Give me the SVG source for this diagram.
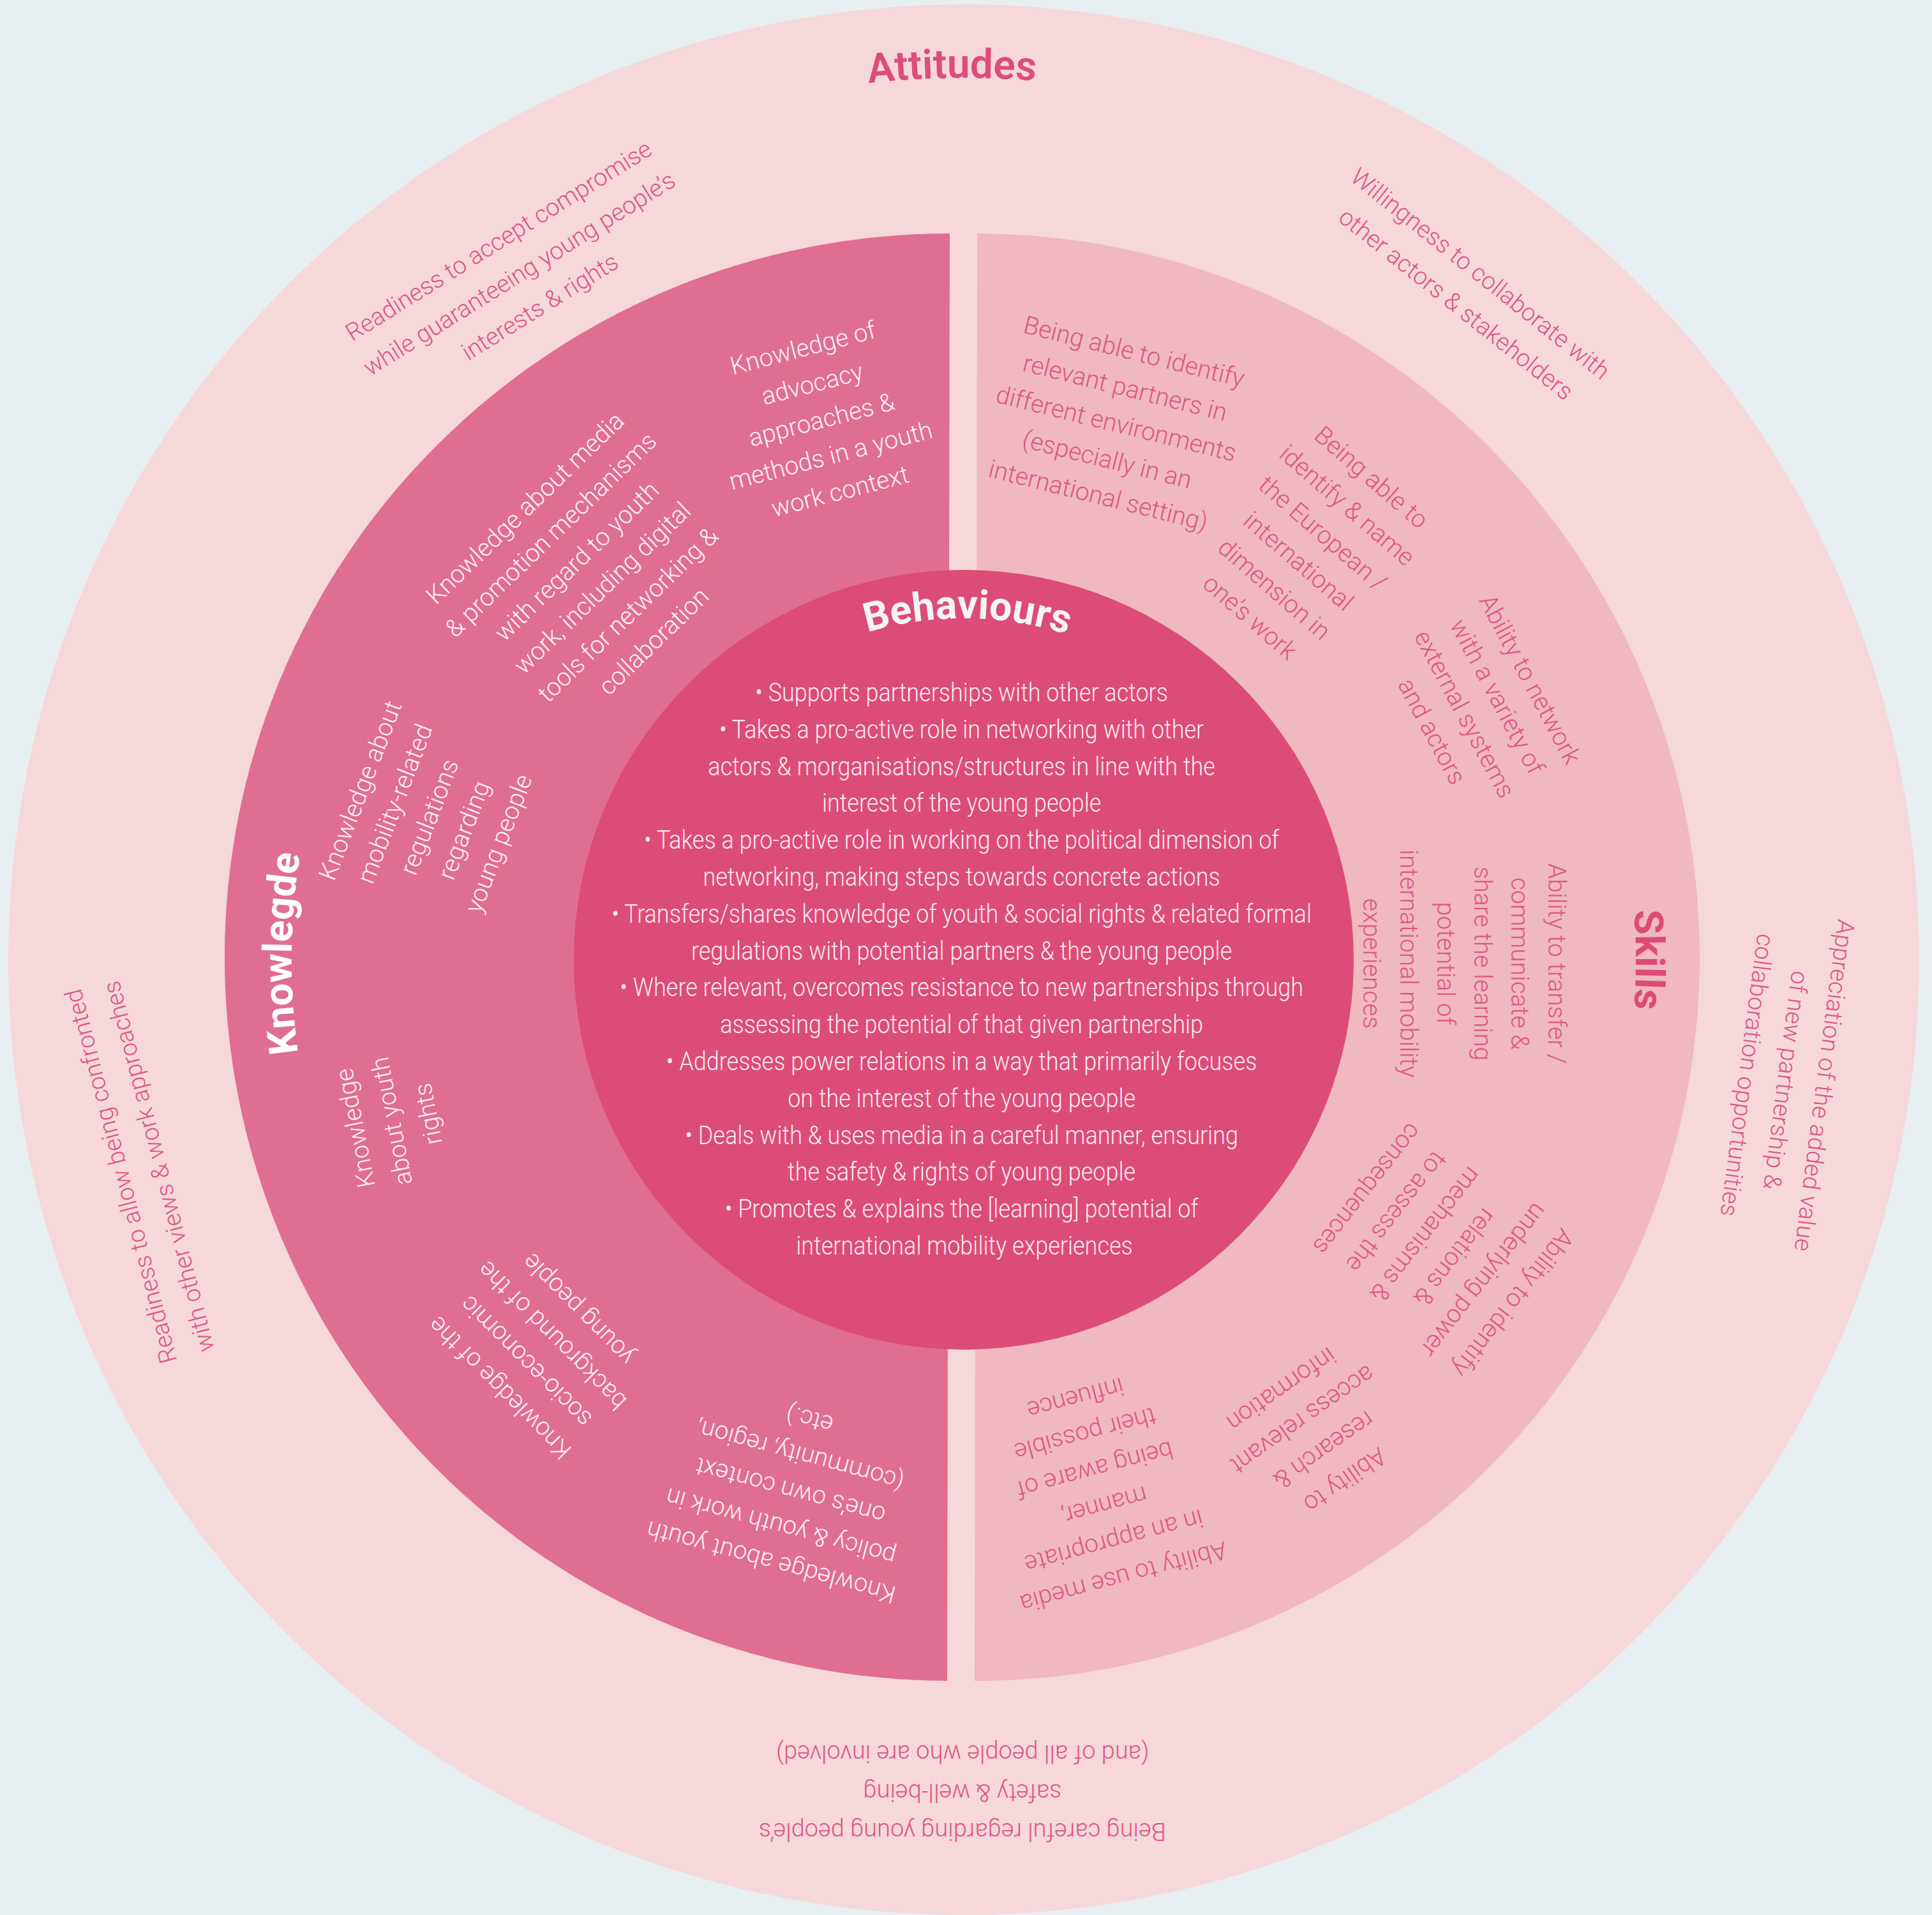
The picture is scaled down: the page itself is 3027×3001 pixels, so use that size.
<svg xmlns="http://www.w3.org/2000/svg" width="3027" height="3001" viewBox="0 0 3027 3001">
<defs>
<style>
text{font-family:"Helvetica Neue",Roboto,"Liberation Sans",Arial,sans-serif}
.t{font-size:39px;font-weight:300;text-anchor:middle}
.kt{fill:#fdf0f4}
.st{fill:#dc5784}
.at{fill:#dc5784;font-size:38px}
.bt{fill:#fdeaf0;font-size:40px;font-weight:300;text-anchor:middle}
.ttl{font-size:63px;font-weight:700;text-anchor:middle}
</style>
<path id="arcA" d="M 1510 2886 A 1382 1382 0 1 1 1510 122 A 1382 1382 0 1 1 1510 2886"/>
<path id="arcKS" d="M 1510 2557 A 1053 1053 0 1 1 1510 451 A 1053 1053 0 1 1 1510 2557"/>
<path id="arcB" d="M 1510 2039 A 535 535 0 1 1 1510 969 A 535 535 0 1 1 1510 2039"/>
</defs>
<rect width="3027" height="3001" fill="#e7eff2"/>

<g id="attitudes">
<circle cx="1510" cy="1504" r="1497" fill="#f6d7da"/>
<text class="ttl" fill="#dc4d7b" style="font-weight:600;font-size:64px"><textPath href="#arcA" startOffset="49.79%">Attitudes</textPath></text>
<g id="att-compromise" transform="translate(813 428) rotate(-32)"><text class="t at"><tspan x="0" y="-47">Readiness to accept compromise</tspan><tspan x="0" y="14">while guaranteeing young people’s</tspan><tspan x="0" y="75">interests &amp; rights</tspan></text></g>
<g id="att-collaborate" transform="translate(2301 452) rotate(38.5)"><text class="t at"><tspan x="0" y="-16.5">Willingness to collaborate with</tspan><tspan x="0" y="44.5">other actors &amp; stakeholders</tspan></text></g>
<g id="att-appreciation" transform="translate(2799 1693) rotate(97.5)"><text class="t at"><tspan x="0" y="-47">Appreciation of the added value</tspan><tspan x="0" y="14">of new partnership &amp;</tspan><tspan x="0" y="75">collaboration opportunities</tspan></text></g>
<g id="att-careful" transform="translate(1508 2810) rotate(180)"><text class="t at"><tspan x="0" y="-47">Being careful regarding young people’s</tspan><tspan x="0" y="14">safety &amp; well-being</tspan><tspan x="0" y="75">(and of all people who are involved)</tspan></text></g>
<g id="att-confronted" transform="translate(218 1836) rotate(-104.5)"><text class="t at"><tspan x="0" y="-16.5">Readiness to allow being confronted</tspan><tspan x="0" y="44.5">with other views &amp; work approaches</tspan></text></g>
</g>

<g id="knowledge">
<path d="M 1488 366 A 1134 1134 0 0 0 1484 2634 Z" fill="#e06d92"/>
<text class="ttl" fill="#ffffff"><textPath href="#arcKS" startOffset="25.15%">Knowlegde</textPath></text>
<g id="k-advocacy" transform="translate(1287 657) rotate(-14.5)"><text class="t kt"><tspan x="0" y="-102">Knowledge of</tspan><tspan x="0" y="-44">advocacy</tspan><tspan x="0" y="14">approaches &amp;</tspan><tspan x="0" y="72">methods in a youth</tspan><tspan x="0" y="130">work context</tspan></text></g>
<g id="k-media" transform="translate(923 900) rotate(-44)"><text class="t kt"><tspan x="0" y="-131">Knowledge about media</tspan><tspan x="0" y="-73">&amp; promotion mechanisms</tspan><tspan x="0" y="-15">with regard to youth</tspan><tspan x="0" y="43">work, including digital</tspan><tspan x="0" y="101">tools for networking &amp;</tspan><tspan x="0" y="159">collaboration</tspan></text></g>
<g id="k-mobility" transform="translate(672 1280) rotate(-69)"><text class="t kt"><tspan x="0" y="-102">Knowledge about</tspan><tspan x="0" y="-44">mobility-related</tspan><tspan x="0" y="14">regulations</tspan><tspan x="0" y="72">regarding</tspan><tspan x="0" y="130">young people</tspan></text></g>
<g id="k-rights" transform="translate(613 1757) rotate(-101)"><text class="t kt"><tspan x="0" y="-44">Knowledge</tspan><tspan x="0" y="14">about youth</tspan><tspan x="0" y="72">rights</tspan></text></g>
<g id="k-socio" transform="translate(844 2114) rotate(-135)"><text class="t kt"><tspan x="0" y="-73">Knowledge of the</tspan><tspan x="0" y="-15">socio-economic</tspan><tspan x="0" y="43">background of the</tspan><tspan x="0" y="101">young people</tspan></text></g>
<g id="k-policy" transform="translate(1238 2337) rotate(-165)"><text class="t kt"><tspan x="0" y="-102">Knowledge about youth</tspan><tspan x="0" y="-44">policy &amp; youth work in</tspan><tspan x="0" y="14">one’s own context</tspan><tspan x="0" y="72">(community, region,</tspan><tspan x="0" y="130">etc.)</tspan></text></g>
</g>

<g id="skills">
<path d="M 1531 366 A 1134 1134 0 0 1 1527 2634 Z" fill="#f0b8c0"/>
<text class="ttl" fill="#dc4b78"><textPath href="#arcKS" startOffset="75%">Skills</textPath></text>
<g id="s-partners" transform="translate(1749 663) rotate(14)"><text class="t st"><tspan x="0" y="-102">Being able to identify</tspan><tspan x="0" y="-44">relevant partners in</tspan><tspan x="0" y="14">different environments</tspan><tspan x="0" y="72">(especially in an</tspan><tspan x="0" y="130">international setting)</tspan></text></g>
<g id="s-european" transform="translate(2054 857) rotate(41)"><text class="t st"><tspan x="0" y="-131">Being able to</tspan><tspan x="0" y="-73">identify &amp; name</tspan><tspan x="0" y="-15">the European /</tspan><tspan x="0" y="43">international</tspan><tspan x="0" y="101">dimension in</tspan><tspan x="0" y="159">one’s work</tspan></text></g>
<g id="s-network" transform="translate(2321 1105) rotate(62)"><text class="t st"><tspan x="0" y="-73">Ability to network</tspan><tspan x="0" y="-15">with a variety of</tspan><tspan x="0" y="43">external systems</tspan><tspan x="0" y="101">and actors</tspan></text></g>
<g id="s-transfer" transform="translate(2295 1510) rotate(90)"><text class="t st"><tspan x="0" y="-131">Ability to transfer /</tspan><tspan x="0" y="-73">communicate &amp;</tspan><tspan x="0" y="-15">share the learning</tspan><tspan x="0" y="43">potential of</tspan><tspan x="0" y="101">international mobility</tspan><tspan x="0" y="159">experiences</tspan></text></g>
<g id="s-power" transform="translate(2257 1953) rotate(128)"><text class="t st"><tspan x="0" y="-131">Ability to identify</tspan><tspan x="0" y="-73">underlying power</tspan><tspan x="0" y="-15">relations &amp;</tspan><tspan x="0" y="43">mechanisms &amp;</tspan><tspan x="0" y="101">to assess the</tspan><tspan x="0" y="159">consequences</tspan></text></g>
<g id="s-research" transform="translate(2058 2249) rotate(145)"><text class="t st"><tspan x="0" y="-73">Ability to</tspan><tspan x="0" y="-15">research &amp;</tspan><tspan x="0" y="43">access relevant</tspan><tspan x="0" y="101">information</tspan></text></g>
<g id="s-media" transform="translate(1723 2332) rotate(165)"><text class="t st"><tspan x="0" y="-131">Ability to use media</tspan><tspan x="0" y="-73">in an appropriate</tspan><tspan x="0" y="-15">manner,</tspan><tspan x="0" y="43">being aware of</tspan><tspan x="0" y="101">their possible</tspan><tspan x="0" y="159">influence</tspan></text></g>
</g>

<g id="behaviours">
<circle cx="1510" cy="1504" r="611" fill="#dc4c78"/>
<text class="ttl" fill="#f4f3f5"><textPath href="#arcB" startOffset="50.17%">Behaviours</textPath></text>
<g transform="translate(1511 0) scale(0.9 1)">
<text class="bt">
<tspan x="0" y="1099">• Supports partnerships with other actors</tspan>
<tspan x="0" y="1156.8">• Takes a pro-active role in networking with other</tspan>
<tspan x="0" y="1214.6">actors &amp; morganisations/structures in line with the</tspan>
<tspan x="0" y="1272.4">interest of the young people</tspan>
<tspan x="0" y="1330.2">• Takes a pro-active role in working on the political dimension of</tspan>
<tspan x="0" y="1388">networking, making steps towards concrete actions</tspan>
<tspan x="0" y="1445.8">• Transfers/shares knowledge of youth &amp; social rights &amp; related formal</tspan>
<tspan x="0" y="1503.6">regulations with potential partners &amp; the young people</tspan>
<tspan x="0" y="1561.4">• Where relevant, overcomes resistance to new partnerships through</tspan>
<tspan x="0" y="1619.2">assessing the potential of that given partnership</tspan>
<tspan x="0" y="1677">• Addresses power relations in a way that primarily focuses</tspan>
<tspan x="0" y="1734.8">on the interest of the young people</tspan>
<tspan x="0" y="1792.6">• Deals with &amp; uses media in a careful manner, ensuring</tspan>
<tspan x="0" y="1850.4">the safety &amp; rights of young people</tspan>
<tspan x="0" y="1908.2">• Promotes &amp; explains the [learning] potential of</tspan>
<tspan x="0" y="1966">international mobility experiences</tspan>
</text>
</g>
</g>
</svg>
